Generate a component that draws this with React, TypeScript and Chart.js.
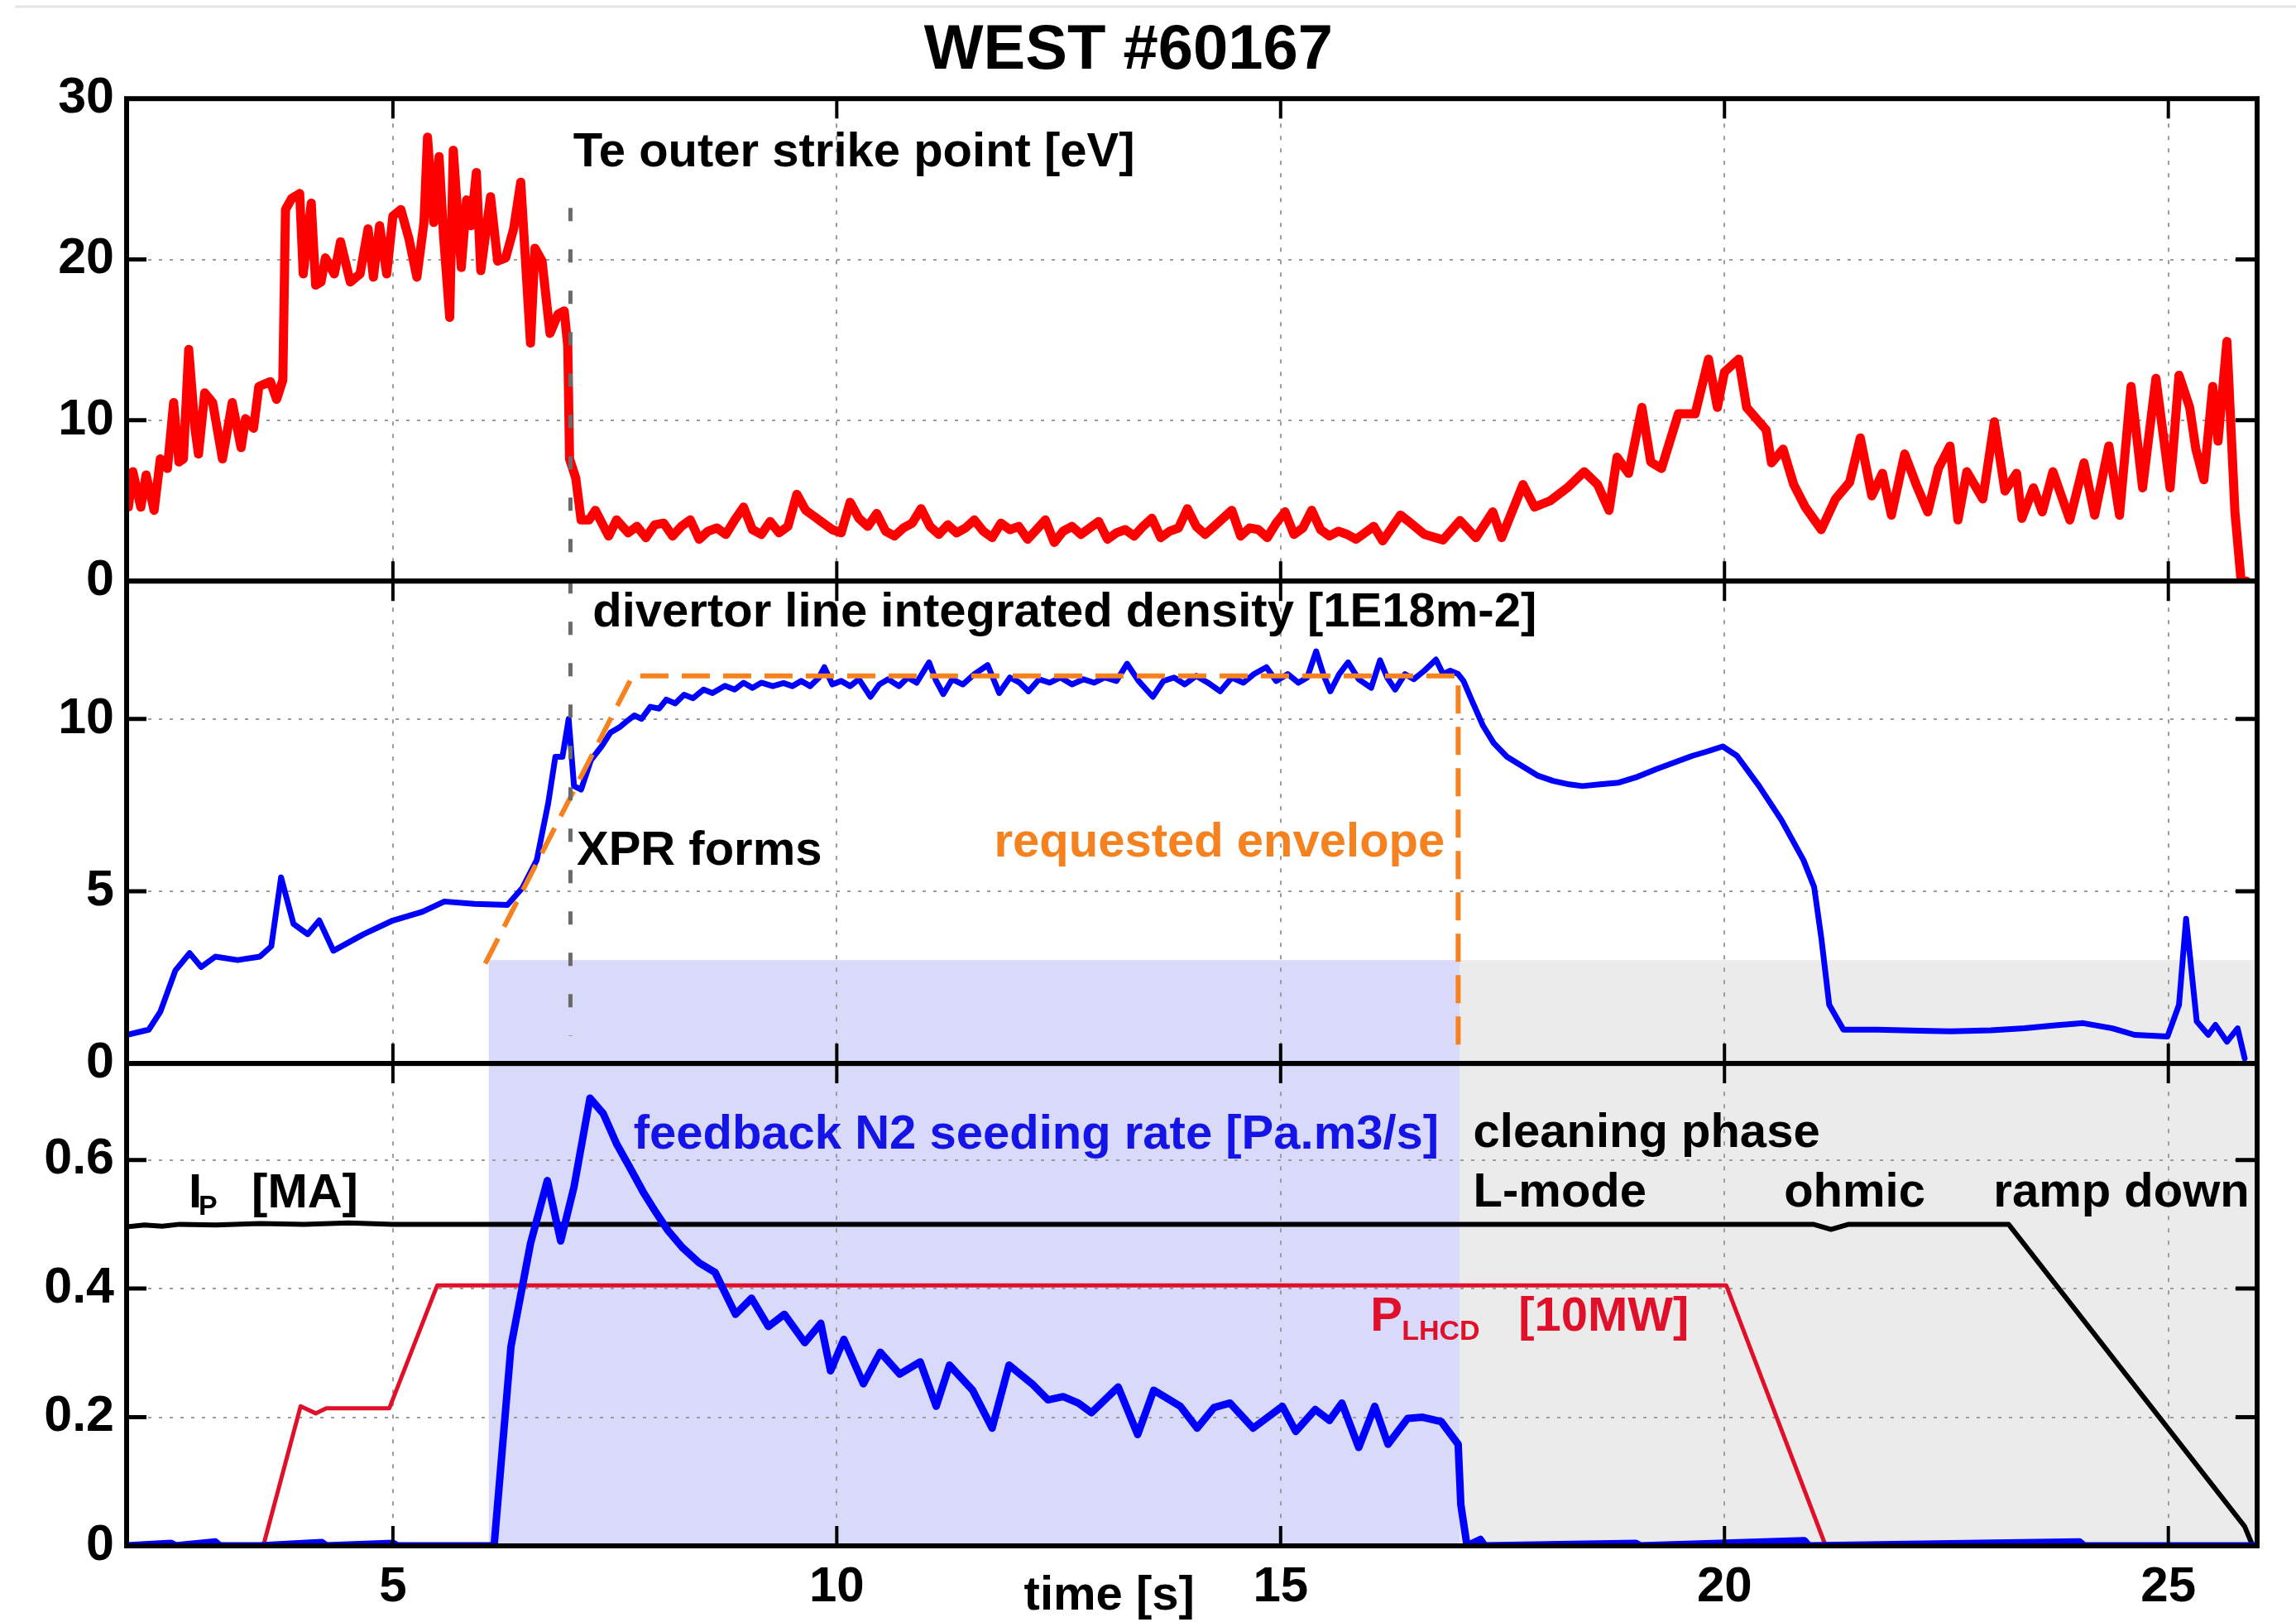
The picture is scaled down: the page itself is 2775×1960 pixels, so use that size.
import React, { useEffect, useRef } from 'react';
import { Chart, registerables } from 'chart.js';

Chart.register(...registerables);

// ---------- data ----------
const xTicks = [5, 10, 15, 20, 25];
const teTicks = [0, 10, 20, 30];
const denTicks = [0, 5, 10];
const seedTicks = [0, 0.2, 0.4, 0.6];

// Te outer strike point [eV]
const teTime = [
  2.02, 2.07, 2.16, 2.22, 2.31, 2.38, 2.46, 2.53, 2.59, 2.64, 2.7, 2.77, 2.81, 2.88, 2.97, 3.08, 3.19, 3.29, 3.34, 3.43,
  3.49, 3.62, 3.69, 3.76, 3.79, 3.86, 3.95, 3.99, 4.08, 4.13, 4.19, 4.24, 4.34, 4.41, 4.52, 4.63, 4.72, 4.78, 4.85, 4.93,
  5.0, 5.09, 5.18, 5.27, 5.35, 5.39, 5.46, 5.52, 5.57, 5.64, 5.68, 5.77, 5.83, 5.88, 5.94, 5.99, 6.1, 6.18, 6.27, 6.36,
  6.44, 6.55, 6.6, 6.68, 6.77, 6.86, 6.93, 6.97, 6.99, 7.06, 7.12, 7.21, 7.28, 7.43, 7.52, 7.65,
  7.75, 7.85, 7.95, 8.05, 8.15, 8.25, 8.35, 8.45, 8.55, 8.65, 8.75, 8.85, 8.95, 9.05, 9.15, 9.25, 9.35, 9.45, 9.55, 9.65,
  9.75, 9.85, 9.95, 10.05, 10.15, 10.25, 10.35, 10.45, 10.55, 10.65, 10.75, 10.85, 10.95, 11.05, 11.15, 11.25, 11.35,
  11.45, 11.55, 11.65, 11.75, 11.85, 11.95, 12.05, 12.15, 12.25, 12.35, 12.45, 12.55, 12.65, 12.75, 12.85, 12.95, 13.05,
  13.15, 13.25, 13.35, 13.45, 13.55, 13.65, 13.75, 13.85, 13.95, 14.05, 14.15, 14.25, 14.35, 14.45, 14.55, 14.65, 14.75,
  14.85, 14.95, 15.05, 15.15, 15.25, 15.35, 15.45, 15.55, 15.65, 15.75, 15.85, 15.95, 16.05, 16.15, 16.25, 16.35,
  16.43, 16.62, 16.83, 17.02, 17.2, 17.39, 17.49, 17.73, 17.86, 18.04, 18.23, 18.42, 18.57, 18.7, 18.79, 18.92,
  19.07, 19.17, 19.29, 19.48, 19.67, 19.82, 19.92, 20.0, 20.16, 20.25, 20.47, 20.53, 20.66, 20.78, 20.91, 21.09, 21.25,
  21.41, 21.53, 21.66, 21.78, 21.88, 22.03, 22.16, 22.29, 22.41, 22.54, 22.63, 22.73, 22.91, 23.04, 23.16, 23.29, 23.35,
  23.48, 23.58, 23.7, 23.89, 24.05, 24.17, 24.33, 24.45, 24.58, 24.71, 24.86, 25.02, 25.12, 25.24, 25.31, 25.4, 25.5,
  25.56, 25.66, 25.75, 25.82, 25.88,
];
const teValue = [
  4.6, 6.8, 4.6, 6.6, 4.4, 7.6, 7.0, 11.1, 7.4, 7.6, 14.4, 9.5, 7.9, 11.7, 11.1, 7.6, 11.1, 8.3, 10.1, 9.5,
  12.1, 12.4, 11.3, 12.5, 23.1, 23.8, 24.1, 19.1, 23.5, 18.4, 18.6, 20.1, 19.1, 21.1, 18.6, 19.1, 21.9, 18.9, 22.1, 19.1,
  22.7, 23.1, 21.3, 18.9, 22.3, 27.6, 22.3, 26.4, 21.5, 16.4, 26.8, 19.5, 23.7, 22.1, 25.4, 19.3, 23.9, 19.9, 20.1, 21.9,
  24.8, 14.8, 20.7, 19.9, 15.4, 16.6, 16.8, 14.6, 7.6, 6.4, 3.8, 3.8, 4.4, 2.8, 3.8, 3.0,
  3.4, 2.7, 3.5, 3.6, 2.8, 3.4, 3.8, 2.6, 3.1, 3.3, 2.9, 3.8, 4.6, 3.2, 2.9, 3.7, 3.0, 3.4, 5.4, 4.4,
  4.0, 3.6, 3.2, 3.0, 4.9, 3.9, 3.4, 4.2, 3.1, 2.8, 3.3, 3.6, 4.5, 3.4, 2.9, 3.5, 3.0,
  3.3, 3.8, 3.1, 2.7, 3.6, 3.2, 3.4, 2.6, 3.2, 3.8, 2.4, 3.1, 3.4, 2.9, 3.3, 3.7, 2.6,
  3.0, 3.2, 2.8, 3.4, 3.9, 2.7, 3.1, 3.3, 4.5, 3.4, 2.9, 3.4, 3.9, 4.4, 2.8, 3.3, 3.2,
  2.7, 3.6, 4.3, 2.9, 3.3, 4.4, 3.2, 2.8, 3.1, 2.9, 2.6, 3.0, 3.4, 2.5, 3.3, 4.1,
  3.76, 2.9, 2.56, 3.76, 2.7, 4.3, 2.7, 6.0, 4.6, 5.0, 5.8, 6.8, 6.0, 4.4, 7.7, 6.7,
  10.8, 7.4, 7.0, 10.4, 10.4, 13.8, 10.8, 13.0, 13.8, 10.8, 9.4, 7.35, 8.2, 6.0, 4.6, 3.2, 5.1,
  6.15, 8.9, 5.3, 6.7, 4.1, 7.9, 6.0, 4.3, 7.0, 8.4, 3.8, 6.8, 5.1, 9.9, 5.6, 6.7, 3.9,
  5.8, 4.3, 6.8, 3.8, 7.35, 4.1, 8.4, 4.1, 12.1, 5.8, 12.6, 5.8, 12.8, 10.8, 8.2, 6.3, 12.1,
  8.7, 14.9, 4.3, 0.0, 0.0,
];

// divertor line integrated density [1E18 m-2]
const denTime = [
  2.0, 2.25, 2.38, 2.55, 2.71, 2.84, 3.0, 3.25, 3.5, 3.63, 3.74, 3.88, 4.04, 4.17, 4.33, 4.67, 5.0, 5.33, 5.58, 5.92,
  6.29, 6.46, 6.62, 6.75, 6.83, 6.91, 6.98, 7.04, 7.12, 7.23, 7.35, 7.45, 7.55, 7.62, 7.72, 7.8, 7.9, 8.0, 8.08, 8.18,
  8.28, 8.38, 8.5, 8.6, 8.74, 8.85, 8.95, 9.05, 9.15, 9.28, 9.4, 9.5, 9.6, 9.7, 9.8, 9.86, 9.95, 10.05, 10.15, 10.25,
  10.38, 10.48, 10.58, 10.7, 10.8, 10.9, 11.04, 11.12, 11.2, 11.3, 11.42, 11.55, 11.7, 11.83, 11.95, 12.06, 12.16, 12.28,
  12.4, 12.52, 12.65, 12.78, 12.9, 13.02, 13.15, 13.27, 13.4, 13.56, 13.68, 13.8, 13.92, 14.05, 14.18, 14.32, 14.45,
  14.58, 14.7, 14.84, 14.95, 15.08, 15.2, 15.3, 15.4, 15.48, 15.56, 15.66, 15.76, 15.88, 16.02, 16.12, 16.2, 16.29,
  16.4, 16.5, 16.62, 16.75, 16.83, 16.91, 17.0, 17.06, 17.16, 17.28, 17.4, 17.55, 17.74, 17.9, 18.07, 18.25, 18.4, 18.6,
  18.81, 19.0, 19.23, 19.4, 19.64, 19.8, 19.98, 20.14, 20.39, 20.64, 20.89, 21.01, 21.09, 21.18, 21.34, 21.72, 22.2,
  22.55, 23.0, 23.38, 23.7, 24.04, 24.37, 24.62, 24.99, 25.12, 25.2, 25.32, 25.45, 25.53, 25.66, 25.78, 25.86,
];
const denValue = [
  0.83, 0.98, 1.5, 2.7, 3.2, 2.8, 3.1, 3.0, 3.1, 3.4, 5.4, 4.05, 3.75, 4.15, 3.27, 3.75, 4.15, 4.4, 4.7, 4.63,
  4.6, 5.1, 5.9, 7.56, 8.9, 8.9, 10.0, 8.05, 7.95, 8.8, 9.2, 9.6, 9.75, 9.9, 10.1, 10.0, 10.35, 10.3, 10.56, 10.45,
  10.7, 10.6, 10.85, 10.75, 10.96, 10.85, 11.05, 10.9, 11.05, 10.95, 11.04, 10.95, 11.1, 10.95, 11.2, 11.5, 11.0, 11.1, 10.95, 11.15,
  10.64, 11.0, 11.15, 10.95, 11.2, 11.05, 11.64, 11.1, 10.72, 11.15, 11.0, 11.3, 11.56, 10.75, 11.2, 11.05, 10.8, 11.15,
  11.05, 11.2, 11.0, 11.15, 11.05, 11.2, 11.1, 11.6, 11.1, 10.64, 11.1, 11.2, 11.0, 11.25, 11.05, 10.8, 11.2,
  11.05, 11.3, 11.5, 11.1, 11.3, 11.05, 11.2, 11.96, 11.3, 10.8, 11.3, 11.64, 11.15, 10.9, 11.7, 11.2, 10.85,
  11.3, 11.15, 11.4, 11.72, 11.3, 11.4, 11.3, 11.1, 10.5, 9.8, 9.3, 8.9, 8.6, 8.35, 8.2, 8.1, 8.05, 8.1,
  8.15, 8.3, 8.54, 8.7, 8.93, 9.05, 9.2, 8.93, 8.05, 7.07, 5.9, 5.12, 3.66, 1.7, 0.98, 0.98, 0.95,
  0.93, 0.96, 1.02, 1.1, 1.17, 1.02, 0.83, 0.78, 1.7, 4.2, 1.22, 0.83, 1.12, 0.63, 1.02, 0.15,
];

// requested envelope
const envTime = [6.04, 7.7, 17.0, 17.0];
const envValue = [2.9, 11.25, 11.25, 0.4];

// feedback N2 seeding rate [Pa.m3/s]
const n2Time = [
  2.0, 2.5, 2.55, 3.0, 3.05, 3.5, 4.2, 4.25, 5.0, 5.05, 6.14, 6.33, 6.55, 6.74, 6.89, 7.04, 7.22, 7.37, 7.52, 7.67, 7.82,
  7.96, 8.1, 8.26, 8.45, 8.63, 8.86, 9.04, 9.23, 9.41, 9.64, 9.82, 9.93, 10.08, 10.3, 10.49, 10.71, 10.94, 11.12, 11.27,
  11.53, 11.75, 11.94, 12.2, 12.38, 12.55, 12.72, 12.87, 13.17, 13.39, 13.57, 13.87, 14.06, 14.25, 14.43, 14.69, 15.02,
  15.17, 15.39, 15.55, 15.69, 15.88, 16.06, 16.21, 16.43, 16.6, 16.81, 17.0, 17.03, 17.1, 17.25, 17.3, 19.0, 19.05,
  20.9, 20.95, 24.0, 24.05, 26.0,
];
const n2Value = [
  0, 0.004, 0, 0.006, 0, 0, 0.005, 0, 0.004, 0, 0, 0.31, 0.47, 0.568, 0.474, 0.558, 0.696, 0.672, 0.625, 0.588, 0.55,
  0.519, 0.49, 0.464, 0.44, 0.425, 0.36, 0.385, 0.341, 0.36, 0.316, 0.346, 0.272, 0.321, 0.252, 0.301, 0.267, 0.286, 0.217, 0.281,
  0.242, 0.183, 0.281, 0.252, 0.227, 0.232, 0.222, 0.207, 0.247, 0.173, 0.242, 0.217, 0.183, 0.215, 0.222, 0.183, 0.217,
  0.178, 0.212, 0.195, 0.222, 0.153, 0.217, 0.158, 0.198, 0.2, 0.193, 0.158, 0.064, 0, 0.01, 0, 0.004, 0,
  0.008, 0, 0.006, 0, 0,
];

// Ip [MA]
const ipTime = [2.0, 2.2, 2.4, 2.6, 3.0, 3.5, 4.0, 4.5, 5.0, 6.0, 10.0, 15.0, 20.0, 21.0, 21.2, 21.4, 22.5, 23.2, 25.86, 25.95];
const ipValue = [0.496, 0.499, 0.497, 0.5, 0.499, 0.501, 0.5, 0.502, 0.5, 0.5, 0.5, 0.5, 0.5, 0.5, 0.492, 0.5, 0.5, 0.5, 0.03, 0.0];

// P_LHCD [10 MW]
const lhTime = [2.0, 3.54, 3.96, 4.13, 4.25, 4.96, 5.5, 20.02, 21.14, 23.0];
const lhValue = [0, 0, 0.217, 0.206, 0.214, 0.214, 0.405, 0.405, 0, 0];

// shaded phases [s] and XPR marker
const seedingWindow = [6.08, 17.02];
const cleaningWindow = [17.02, 26.0];
const phaseBandTop = 3.0; // density units
const xprMarker = [7.0, 23.2, 0.8]; // time, Te top, density bottom

// ---------- styles ----------
const FONT = '"Liberation Sans", Arial, Helvetica, sans-serif';
const GRID = '#9c9c9c';

type Part = { text: string; dx: number; size: number; dy?: number };
type Note = { parts: Part[]; x: number; y: number; axis: string; color: string; align?: CanvasTextAlign };

const notes: Note[] = [
  { parts: [{ text: 'Te outer strike point [eV]', dx: 0, size: 58 }], x: 7.03, y: 25.8, axis: 'yTe', color: '#000' },
  { parts: [{ text: 'divertor line integrated density [1E18m-2]', dx: 0, size: 58 }], x: 7.25, y: 12.68, axis: 'yDen', color: '#000' },
  { parts: [{ text: 'XPR forms', dx: 0, size: 58 }], x: 7.07, y: 5.76, axis: 'yDen', color: '#000' },
  { parts: [{ text: 'requested envelope', dx: 0, size: 58 }], x: 16.85, y: 6.0, axis: 'yDen', color: '#f5821f', align: 'right' },
  { parts: [{ text: 'feedback N2 seeding rate [Pa.m3/s]', dx: 0, size: 58 }], x: 7.71, y: 0.617, axis: 'yN2', color: '#1414e6' },
  { parts: [{ text: 'cleaning phase', dx: 0, size: 58 }], x: 17.17, y: 0.6205, axis: 'yN2', color: '#000' },
  { parts: [{ text: 'L-mode', dx: 0, size: 58 }], x: 17.17, y: 0.528, axis: 'yN2', color: '#000' },
  { parts: [{ text: 'ohmic', dx: 0, size: 58 }], x: 20.67, y: 0.528, axis: 'yN2', color: '#000' },
  { parts: [{ text: 'ramp down', dx: 0, size: 58 }], x: 23.03, y: 0.528, axis: 'yN2', color: '#000' },
  {
    parts: [
      { text: 'I', dx: 0, size: 58 },
      { text: 'P', dx: 12, size: 34, dy: 9 },
      { text: '[MA]', dx: 76, size: 58 },
    ],
    x: 2.7, y: 0.526, axis: 'yN2', color: '#000',
  },
  {
    parts: [
      { text: 'P', dx: 0, size: 58 },
      { text: 'LHCD', dx: 38, size: 34, dy: 11 },
      { text: '[10MW]', dx: 179, size: 58 },
    ],
    x: 16.01, y: 0.335, axis: 'yN2', color: '#e0102a',
  },
];

const pts = (xs: number[], ys: number[]) => xs.map((x, i) => ({ x, y: ys[i] }));

const panelPlugin = {
  id: 'panelDecor',
  beforeDraw(chart: any) {
    const { ctx, scales } = chart;
    const x = scales.x, yDen = scales.yDen, yN2 = scales.yN2;
    const top = yDen.getPixelForValue(phaseBandTop);
    const bottom = yN2.getPixelForValue(0);
    ctx.save();
    ctx.fillStyle = '#d9d9fa';
    const a = x.getPixelForValue(seedingWindow[0]);
    const b = x.getPixelForValue(seedingWindow[1]);
    ctx.fillRect(a, top, b - a, bottom - top);
    ctx.fillStyle = '#ebebeb';
    const c = x.getPixelForValue(cleaningWindow[0]);
    const d = x.getPixelForValue(cleaningWindow[1]);
    ctx.fillRect(c, top, d - c, bottom - top);
    // faint page rule at the top of the picture
    ctx.strokeStyle = '#e4e4e4';
    ctx.lineWidth = 3;
    ctx.beginPath();
    ctx.moveTo(18, 8);
    ctx.lineTo(chart.width, 8);
    ctx.stroke();
    ctx.restore();
  },
  afterDatasetsDraw(chart: any) {
    const { ctx, scales } = chart;
    const px = scales.x.getPixelForValue(xprMarker[0]);
    ctx.save();
    ctx.strokeStyle = '#6a6a6a';
    ctx.lineWidth = 5;
    ctx.setLineDash([16, 34]);
    ctx.beginPath();
    ctx.moveTo(px, scales.yTe.getPixelForValue(xprMarker[1]));
    ctx.lineTo(px, scales.yDen.getPixelForValue(xprMarker[2]));
    ctx.stroke();
    ctx.restore();
  },
  afterDraw(chart: any) {
    const { ctx, scales, chartArea } = chart;
    const xs = scales.x;
    ctx.save();
    ctx.strokeStyle = '#000';
    const panels = [scales.yTe, scales.yDen, scales.yN2];
    const tickLists = [teTicks, denTicks, seedTicks];
    panels.forEach((s: any, i: number) => {
      // inward y ticks
      ctx.lineWidth = 5;
      tickLists[i].forEach((v) => {
        if (v === s.min || v === s.max) return;
        const y = s.getPixelForValue(v);
        ctx.beginPath();
        ctx.moveTo(chartArea.left, y);
        ctx.lineTo(chartArea.left + 24, y);
        ctx.moveTo(chartArea.right, y);
        ctx.lineTo(chartArea.right - 26, y);
        ctx.stroke();
      });
      // inward x ticks, top and bottom of each panel
      ctx.lineWidth = 4;
      xTicks.forEach((v) => {
        const x = xs.getPixelForValue(v);
        ctx.beginPath();
        ctx.moveTo(x, s.top);
        ctx.lineTo(x, s.top + 24);
        ctx.moveTo(x, s.bottom);
        ctx.lineTo(x, s.bottom - 24);
        ctx.stroke();
      });
      // panel frame
      ctx.lineWidth = 6;
      ctx.strokeRect(chartArea.left, s.top, chartArea.right - chartArea.left, s.bottom - s.top);
    });

    // annotations
    ctx.textBaseline = 'alphabetic';
    notes.forEach((n) => {
      const s = scales[n.axis];
      const ax = xs.getPixelForValue(n.x);
      const ay = s.getPixelForValue(n.y);
      ctx.fillStyle = n.color;
      ctx.textAlign = n.align || 'left';
      n.parts.forEach((p) => {
        ctx.font = `bold ${p.size}px ${FONT}`;
        ctx.fillText(p.text, ax + p.dx, ay + (p.dy || 0));
      });
    });
    // x-axis caption, sitting between the tick labels
    ctx.fillStyle = '#000';
    ctx.textAlign = 'center';
    ctx.font = `bold 58px ${FONT}`;
    ctx.fillText('time [s]', xs.getPixelForValue(13.07), chartArea.bottom + 77);
    ctx.restore();
  },
};

const yScale = (min: number, max: number, ticks: number[]) => ({
  type: 'linear' as const,
  position: 'left' as const,
  stack: 'panels',
  stackWeight: 1,
  min,
  max,
  afterBuildTicks: (s: any) => {
    s.ticks = ticks.map((v) => ({ value: v }));
  },
  afterFit: (s: any) => {
    s.width = 153;
  },
  grid: { color: GRID, lineWidth: 2, drawTicks: false },
  border: { display: false, dash: [4, 9] },
  ticks: {
    color: '#000',
    font: { family: FONT, size: 61, weight: 'bold' as const },
    padding: 15,
    autoSkip: false,
    callback: (v: any) => String(v),
  },
});

export default function App() {
  const ref = useRef<HTMLCanvasElement>(null);
  useEffect(() => {
    document.body.style.margin = '0';
    document.body.style.overflow = 'hidden';
    const canvas = ref.current!;
    const chart = new Chart(canvas, {
      type: 'line',
      data: {
        datasets: [
          { label: 'Te', data: pts(teTime, teValue), yAxisID: 'yTe', borderColor: '#ff0000', borderWidth: 11, order: 1 },
          { label: 'envelope', data: pts(envTime, envValue), yAxisID: 'yDen', borderColor: '#f5821f', borderWidth: 6, borderDash: [34, 16], borderCapStyle: 'butt', order: 0 },
          { label: 'density', data: pts(denTime, denValue), yAxisID: 'yDen', borderColor: '#0000ff', borderWidth: 7, order: 2 },
          { label: 'N2', data: pts(n2Time, n2Value), yAxisID: 'yN2', borderColor: '#0000ff', borderWidth: 9, order: 3 },
          { label: 'Ip', data: pts(ipTime, ipValue), yAxisID: 'yN2', borderColor: '#000000', borderWidth: 6, order: 5 },
          { label: 'PLHCD', data: pts(lhTime, lhValue), yAxisID: 'yN2', borderColor: '#e0102a', borderWidth: 5, order: 4 },
        ] as any,
      },
      options: {
        responsive: false,
        animation: false,
        devicePixelRatio: 1,
        parsing: false as any,
        normalized: true,
        layout: { padding: { left: 0, right: 47, top: 0, bottom: 0 } },
        elements: {
          point: { radius: 0 },
          line: { tension: 0, borderJoinStyle: 'round', borderCapStyle: 'round', fill: false },
        },
        plugins: {
          legend: { display: false },
          tooltip: { enabled: false },
          title: {
            display: true,
            text: 'WEST #60167',
            color: '#000',
            font: { family: FONT, size: 76, weight: 'bold' },
            padding: { top: 16, bottom: 12 },
          },
        },
        scales: {
          x: {
            type: 'linear',
            position: 'bottom',
            min: 2,
            max: 26,
            afterBuildTicks: (s: any) => {
              s.ticks = xTicks.map((v) => ({ value: v }));
            },
            afterFit: (s: any) => {
              s.height = 92;
            },
            grid: { color: GRID, lineWidth: 2, drawTicks: false },
            border: { display: false, dash: [5, 10] },
            ticks: {
              color: '#000',
              font: { family: FONT, size: 60, weight: 'bold' },
              padding: 14,
              maxRotation: 0,
              autoSkip: false,
            },
          },
          yN2: yScale(0, 0.75, seedTicks),
          yDen: yScale(0, 14, denTicks),
          yTe: yScale(0, 30, teTicks),
        } as any,
      },
      plugins: [panelPlugin],
    });
    return () => chart.destroy();
  }, []);
  return (
    <canvas
      ref={ref}
      width={2775}
      height={1960}
      style={{ display: 'block', width: '2775px', height: '1960px' }}
    />
  );
}
